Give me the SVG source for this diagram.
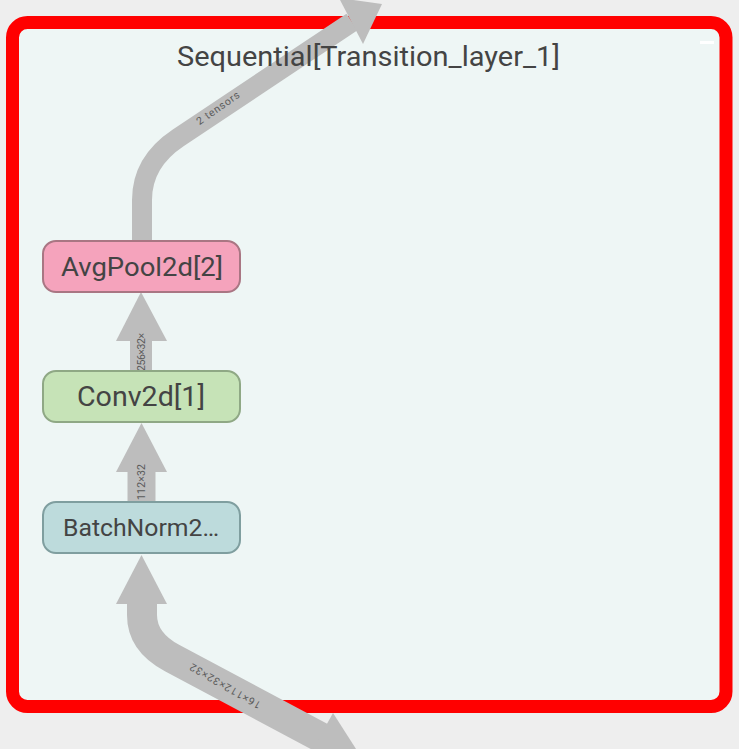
<svg xmlns="http://www.w3.org/2000/svg" width="739" height="749" viewBox="0 0 739 749">
  <style>
    .node rect { stroke-width: 2; }
    .node text { font-family: Roboto, "Liberation Sans", sans-serif; fill: #444444; text-anchor: middle; }
    .edge { fill: none; stroke: #bdbdbd; stroke-linejoin: round; }
    .head { fill: #bdbdbd; }
    .elabel { font-family: Roboto, "Liberation Sans", sans-serif; font-size: 10.5px; fill: #5a5a5a; text-anchor: middle; }
  </style>
  <rect x="0" y="0" width="739" height="749" fill="#eeeeee"/>
  <g id="cluster">
    <rect x="12.5" y="22.5" width="713.5" height="684" rx="15" fill="#eef6f5" stroke="#ff0000" stroke-width="13"/>
    <rect x="700" y="41" width="14" height="3" fill="#ffffff"/>
  </g>
  <g id="connectors">
    <g id="edge-avgpool-out">
      <path class="edge" stroke-width="20" d="M142,243 V200 Q142,162 178,138 L352,22"/>
      <polygon class="head" points="339,-2 382,4 363,44"/>
      <text class="elabel" transform="translate(220,111) rotate(-35)" textLength="50">2 tensors</text>
    </g>
    <g id="edge-conv-avgpool">
      <path class="edge" stroke-width="22" d="M141,372 V338"/>
      <polygon class="head" points="141,292 167,341 116,341"/>
      <text class="elabel" transform="translate(145,352) rotate(-90)" textLength="38">256×32×</text>
    </g>
    <g id="edge-bn-conv">
      <path class="edge" stroke-width="28" d="M141.5,503 V469"/>
      <polygon class="head" points="141.5,423 167,472 116,472"/>
      <text class="elabel" transform="translate(145,482) rotate(-90)" textLength="36">112×32</text>
    </g>
    <g id="edge-in-bn">
      <path class="edge" stroke-width="30" d="M142,600 V615 Q142,642 172,658 L322,738"/>
      <polygon class="head" points="141.5,555 167,604 116,604"/>
      <polygon class="head" points="333,713 365,763 307,760"/>
      <text class="elabel" transform="translate(227,683) rotate(210)" textLength="80">16×112×32×32</text>
    </g>
  </g>
  <text id="title" x="368.5" y="66" font-family="Roboto, 'Liberation Sans', sans-serif" font-size="27" fill="#444444" text-anchor="middle" textLength="383" lengthAdjust="spacingAndGlyphs">Sequential[Transition_layer_1]</text>
  <g id="node-avgpool" class="node">
    <rect x="43" y="241" width="197" height="51" rx="13" fill="#f5a3bc" stroke="#a97683"/>
    <text x="142" y="276" font-size="26" textLength="162" lengthAdjust="spacingAndGlyphs">AvgPool2d[2]</text>
  </g>
  <g id="node-conv" class="node">
    <rect x="43" y="371" width="197" height="51" rx="13" fill="#c6e3b7" stroke="#8fa885"/>
    <text x="141" y="406" font-size="28" textLength="128" lengthAdjust="spacingAndGlyphs">Conv2d[1]</text>
  </g>
  <g id="node-bn" class="node">
    <rect x="43" y="502" width="197" height="51" rx="13" fill="#bddbdc" stroke="#7f9e9f"/>
    <text x="141" y="536" font-size="24" textLength="156" lengthAdjust="spacingAndGlyphs">BatchNorm2…</text>
  </g>
</svg>
